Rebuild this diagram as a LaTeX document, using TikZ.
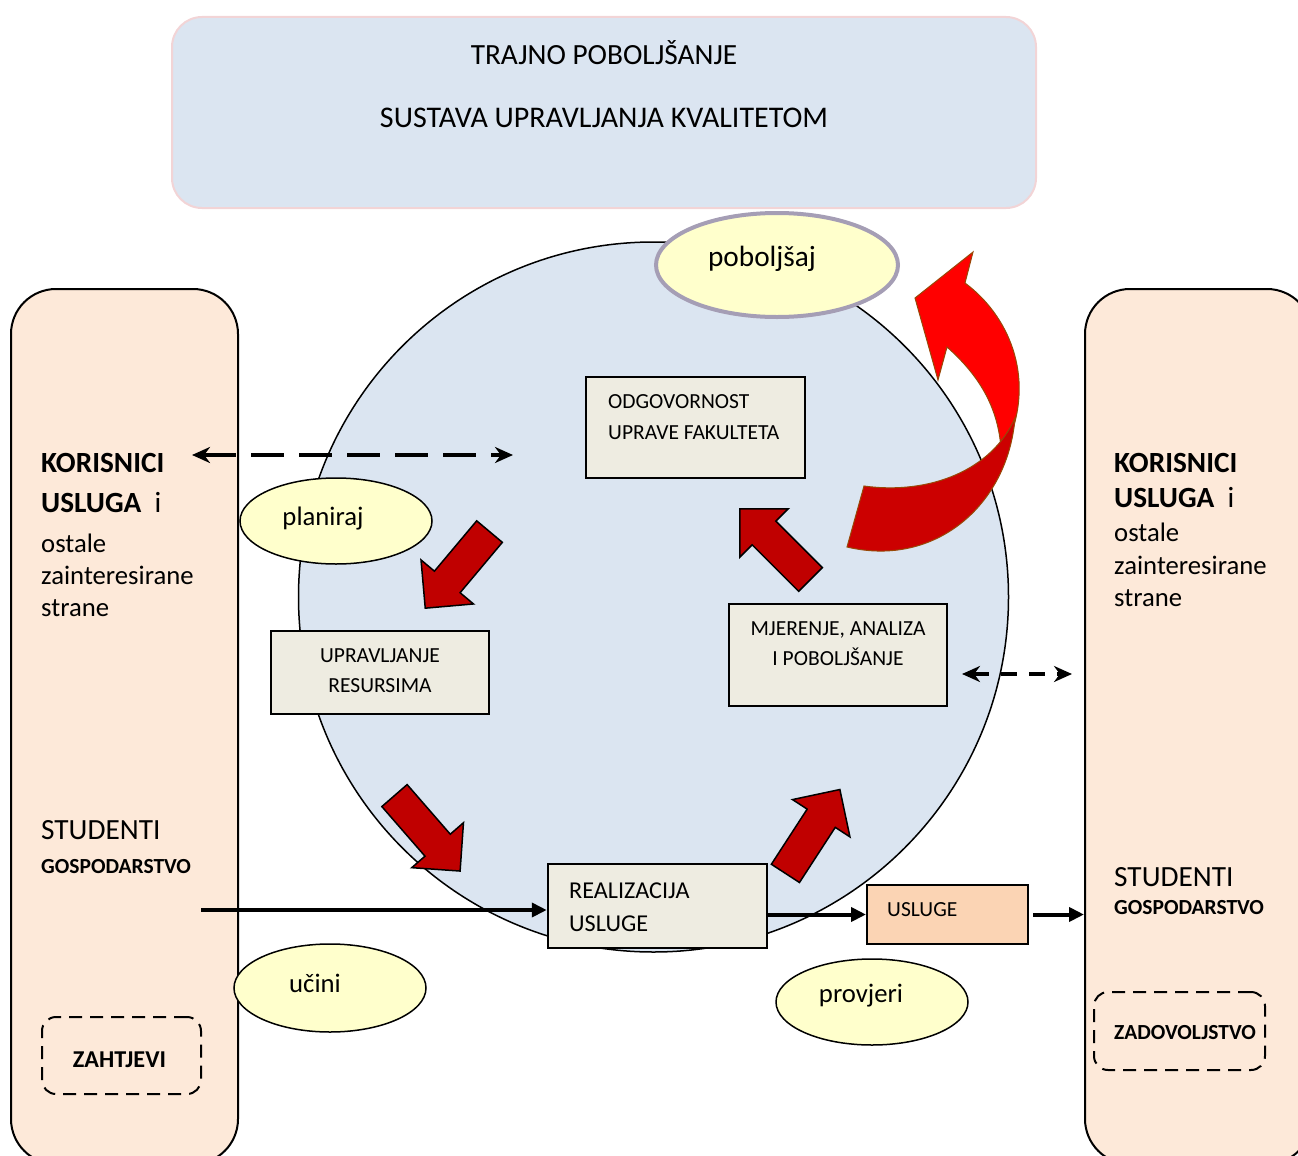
\documentclass[tikz,border=0pt]{standalone}
\usepackage{fontspec}
\setmainfont{Carlito}
\usetikzlibrary{shapes.geometric,shapes.arrows,arrows.meta}

\definecolor{skyfill}{HTML}{DBE5F1}
\definecolor{pinkline}{HTML}{F2D4D6}
\definecolor{peach}{HTML}{FDE9D9}
\definecolor{boxfill}{HTML}{EEECE1}
\definecolor{uslfill}{HTML}{FBD4B4}
\definecolor{ovalfill}{HTML}{FFFFCC}
\definecolor{pobline}{HTML}{A59EB5}
\definecolor{arrred}{HTML}{C00000}
\definecolor{brightred}{HTML}{FF0000}
\definecolor{deepred}{HTML}{CC0000}
\definecolor{arrbrown}{HTML}{984807}

\newcommand\fbig{\fontsize{29.3pt}{35pt}\selectfont}
\newcommand\fmid{\fontsize{26.7pt}{32pt}\selectfont}
\newcommand\fsm{\fontsize{24.2pt}{29pt}\selectfont}
\newcommand\ftiny{\fontsize{21.5pt}{26pt}\selectfont}

\begin{document}
\begin{tikzpicture}[
    x=1pt,y=-1pt,
    panel/.style={draw,line width=2pt,fill=peach,rounded corners=45pt,inner sep=0pt},
    box/.style={draw,line width=2.5pt,fill=boxfill,inner sep=0pt},
    oval/.style={ellipse,draw,line width=1.5pt,fill=ovalfill,inner sep=0pt},
    wish/.style={draw,line width=2pt,dash pattern=on 13pt off 8pt,rounded corners=14pt,inner sep=0pt},
    txt/.style={anchor=base west,inner sep=0pt},
    ctxt/.style={anchor=base,inner sep=0pt},
    blockarr/.style={single arrow,draw,line width=1.5pt,fill=arrred,inner xsep=0pt,inner ysep=16pt,anchor=tail,
      minimum height=100pt,single arrow head extend=17.5pt},
    flow/.style={line width=4pt,-{Triangle[length=15pt,width=14pt]}},
    link/.style={line width=4pt,dash pattern=on 33pt off 15pt,
      {Stealth[length=18pt,width=16pt]}-{Stealth[length=18pt,width=16pt]}}
  ]
  \useasboundingbox (0,0) rectangle (1298,1156);
  % Title banner.
  \node[draw=pinkline,line width=2pt,fill=skyfill,rounded corners=30pt,inner sep=0pt,
    minimum width=864pt,minimum height=191pt] (title) at (604,112.5) {};
  \node[ctxt] at (604,64) {\fbig TRAJNO POBOLJŠANJE};
  \node[ctxt] at (604,127) {\fontsize{30pt}{36pt}\selectfont SUSTAVA UPRAVLJANJA KVALITETOM};
  % The cycle.
  \node[circle,draw,line width=1.5pt,fill=skyfill,minimum size=710pt,inner sep=0pt] (cycle) at (653.5,597) {};
  % The two side panels.
  \node[panel,minimum width=227pt,minimum height=875pt] (lpanel) at (124.5,726.5) {};
  \node[panel,minimum width=227pt,minimum height=875pt] (rpanel) at (1198.5,726.5) {};
  \node[txt] at (41,472) {\fbig\bfseries KORISNICI};
  \node[txt] at (41,512) {\fbig\textbf{USLUGA}~~i};
  \node[txt] at (41,552) {\fmid ostale};
  \node[txt] at (41,584) {\fmid zainteresirane};
  \node[txt] at (41,616) {\fmid strane};
  \node[txt] at (41,839) {\fbig STUDENTI};
  \node[txt] at (41,873) {\ftiny\bfseries GOSPODARSTVO};
  \node[wish,minimum width=159pt,minimum height=77pt] (zaht) at (121.5,1055.5) {};
  \node[ctxt] at (119.5,1067) {\fsm\bfseries ZAHTJEVI};
  \node[txt] at (1114,472) {\fbig\bfseries KORISNICI};
  \node[txt] at (1114,507) {\fbig\textbf{USLUGA}~~i};
  \node[txt] at (1114,541) {\fmid ostale};
  \node[txt] at (1114,574) {\fmid zainteresirane};
  \node[txt] at (1114,606) {\fmid strane};
  \node[txt] at (1114,886) {\fbig STUDENTI};
  \node[txt] at (1114,914) {\ftiny\bfseries GOSPODARSTVO};
  \node[wish,minimum width=171pt,minimum height=78pt] (zadov) at (1179.5,1031) {};
  \node[txt] at (1114,1039) {\ftiny\bfseries ZADOVOLJSTVO};
  % The big curved arrow (act).
  \filldraw[fill=brightred,draw=arrbrown,line width=1pt] (1001,448) .. controls (998,410) and (982,378) .. (947,347)
    -- (938,380) -- (915,298) -- (973,252) -- (965,283)
    .. controls (1008,315) and (1035,375) .. (1009,440) -- cycle;
  \filldraw[fill=deepred,draw=arrbrown,line width=1pt] (847,547) -- (864,486)
    .. controls (930,495) and (992,470) .. (1015,418)
    .. controls (1008,505) and (935,568) .. (847,547) -- cycle;
  % The process boxes.
  \node[box,minimum width=219pt,minimum height=101pt] (odg) at (695.5,427.5) {};
  \node[txt] at (608,408) {\ftiny ODGOVORNOST};
  \node[txt] at (608,439) {\ftiny UPRAVE FAKULTETA};
  \node[box,minimum width=218pt,minimum height=83pt] (upr) at (380,672.5) {};
  \node[ctxt] at (380,662) {\ftiny UPRAVLJANJE};
  \node[ctxt] at (380,692) {\ftiny RESURSIMA};
  \node[box,minimum width=218pt,minimum height=102pt] (mjer) at (838,655) {};
  \node[ctxt] at (838,635) {\ftiny MJERENJE, ANALIZA};
  \node[ctxt] at (838,665) {\ftiny I POBOLJŠANJE};
  \node[box,minimum width=219pt,minimum height=84pt] (real) at (657.5,906) {};
  \node[txt] at (569,898) {\fsm REALIZACIJA};
  \node[txt] at (569,931) {\fsm USLUGE};
  \node[box,fill=uslfill,line width=2pt,minimum width=161pt,minimum height=59pt] (usl) at (947.5,914.5) {};
  \node[txt] at (887,916) {\ftiny USLUGE};
  % The four steps.
  \node[oval,draw=pobline,line width=4pt,minimum width=242pt,minimum height=104pt] (pob) at (777,265) {};
  \node[ctxt] at (762,266) {\fbig poboljšaj};
  \node[oval,minimum width=192pt,minimum height=86pt] (plan) at (336,521) {};
  \node[ctxt] at (323,525) {\fmid planiraj};
  \node[oval,minimum width=192pt,minimum height=88pt] (ucini) at (330,988) {};
  \node[ctxt] at (315,992) {\fmid učini};
  \node[oval,minimum width=192pt,minimum height=86pt] (prov) at (872,1002) {};
  \node[ctxt] at (861,1002) {\fmid provjeri};
  % Block arrows round the cycle.
  \node[blockarr,rotate=230] (arrplan) at (490,531) {};
  \node[blockarr,rotate=311] (arrdo) at (394,795) {};
  \node[blockarr,rotate=57] (arrchk) at (785,874) {};
  \node[blockarr,rotate=135] (arract) at (811,580) {};
  % Flows.
  \coordinate (lin) at (201,910);
  \draw[flow] (lin) -- (lin -| real.west);
  \draw[flow] (usl.west -| real.east) -- (usl.west);
  \draw[flow] ([xshift=4pt]usl.east) -- (usl.east -| rpanel.west);
  \coordinate (lk1) at (192,455);
  \coordinate (lk2) at (513,455);
  \draw[link] (lk1) -- (lk2);
  \coordinate (rk1) at (962,674);
  \coordinate (rk2) at (1072,674);
  \draw[link,dash pattern=on 16pt off 12pt] (rk1) -- (rk2);
\end{tikzpicture}
\end{document}
